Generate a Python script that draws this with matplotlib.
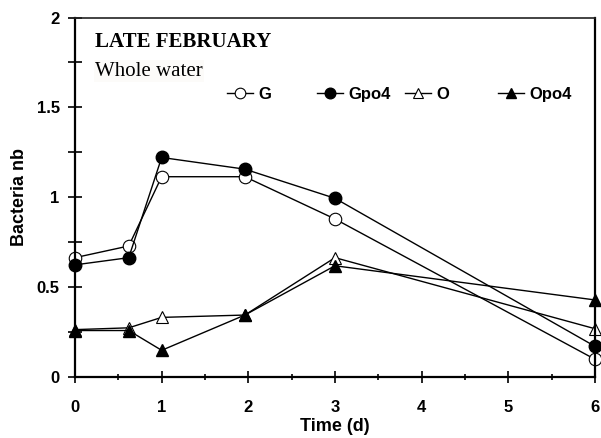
import matplotlib.pyplot as plt
from matplotlib.ticker import MultipleLocator
from matplotlib.legend import Legend

# data
t = [0, 0.62, 1, 1.96, 3, 6]
G = [0.665, 0.73, 1.115, 1.115, 0.88, 0.10]
Gpo4 = [0.625, 0.665, 1.222, 1.157, 0.995, 0.172]
O = [0.265, 0.275, 0.333, 0.346, 0.665, 0.27]
Opo4 = [0.26, 0.26, 0.15, 0.346, 0.62, 0.43]

sans = 'Liberation Sans'
serif = 'Liberation Serif'

fig = plt.figure(figsize=(6.01, 4.38), dpi=100)
ax = fig.add_axes([0.1248, 0.1386, 0.8652, 0.8214])

ms = 9
lines = []
lines += ax.plot(t, G, color='black', lw=1, marker='o', ms=ms, mfc='white', mec='black', mew=0.8, label='G')
lines += ax.plot(t, Gpo4, color='black', lw=1, marker='o', ms=ms, mfc='black', mec='black', label='Gpo4')
lines += ax.plot(t, O, color='black', lw=1, marker='^', ms=ms, mfc='white', mec='black', mew=0.8, label='O')
lines += ax.plot(t, Opo4, color='black', lw=1, marker='^', ms=ms, mfc='black', mec='black', label='Opo4')
for ln in lines:
    ln.set_clip_on(False)

ax.set_xlim(0, 6)
ax.set_ylim(0, 2)
ax.xaxis.set_major_locator(MultipleLocator(1))
ax.xaxis.set_minor_locator(MultipleLocator(0.5))
ax.set_yticks([0, 0.5, 1, 1.5, 2])
ax.set_yticklabels(['0', '0.5', '1', '1.5', '2'])
ax.yaxis.set_minor_locator(MultipleLocator(0.25))

ax.tick_params(axis='x', which='major', direction='inout', length=9, width=1.2, pad=12)
ax.tick_params(axis='x', which='minor', direction='inout', length=5, width=1.2)
ax.tick_params(axis='y', which='both', direction='inout', length=10, width=1.2, pad=6)
for lab in ax.get_xticklabels() + ax.get_yticklabels():
    lab.set_fontfamily(sans)
    lab.set_fontweight('bold')
    lab.set_fontsize(12)

ax.spines['top'].set_linewidth(1.2)
ax.spines['top'].set_color('#222222')
for s in ['left', 'bottom', 'right']:
    ax.spines[s].set_linewidth(1.6)

ax.set_xlabel('Time (d)', fontfamily=sans, fontweight='bold', fontsize=13, labelpad=2)
ax.set_ylabel('Bacteria nb', fontfamily=sans, fontweight='bold', fontsize=13, labelpad=6)

ax.text(0.0385, 0.932, 'LATE FEBRUARY', transform=ax.transAxes, fontfamily=serif,
        fontweight='bold', fontsize=15, va='center')
ax.text(0.0385, 0.851, 'Whole water', transform=ax.transAxes, fontfamily=serif,
        fontsize=15, va='center', bbox=dict(facecolor='#fcfbf9', edgecolor='none', pad=1))

# legend entries sit in fixed-width slots, like the original
slots = [0.292, 0.465, 0.635, 0.813]
for ln, x0 in zip(lines, slots):
    leg = Legend(ax, [ln], [ln.get_label()], loc='center left', bbox_to_anchor=(x0, 0.787),
                 frameon=False, prop={'family': sans, 'weight': 'bold', 'size': 12},
                 handlelength=1.55, handletextpad=0.35, borderpad=0, borderaxespad=0,
                 markerscale=0.85)
    ax.add_artist(leg)

fig.savefig('out.png', dpi=100)
